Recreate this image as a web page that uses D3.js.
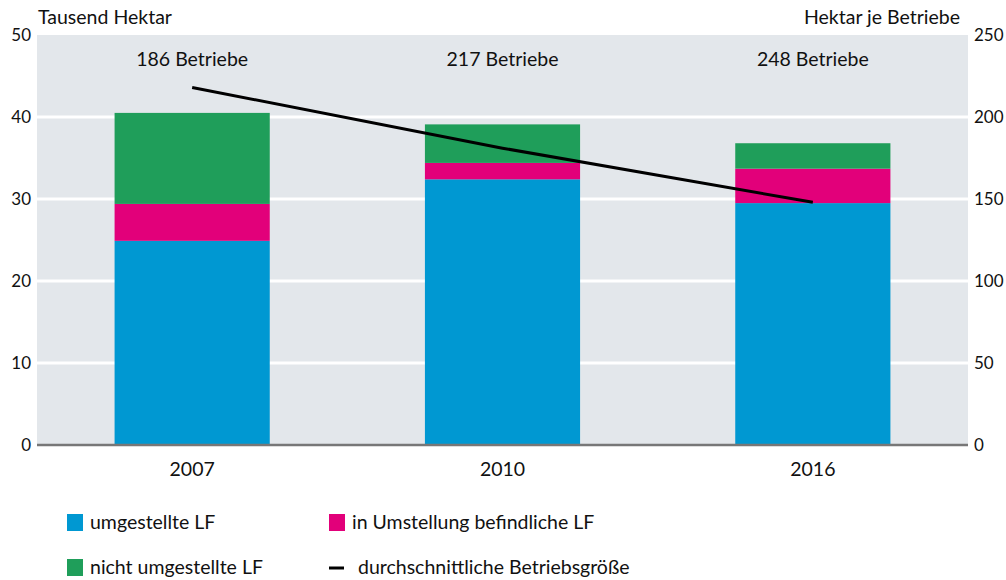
<!DOCTYPE html>
<html>
<head>
<meta charset="utf-8">
<script src="https://cdn.jsdelivr.net/npm/d3@7"></script>
<style>
  body { margin: 0; background: #fff; }
  svg { font-family: Lato, "Noto Sans", sans-serif; }
</style>
</head>
<body>
<div id="chart"></div>
<script>
const years = ['2007', '2010', '2016'];
const umgestellt = [24.9, 32.4, 29.5];
const inUmstellung = [4.5, 2.0, 4.2];
const nichtUmgestellt = [11.1, 4.7, 3.1];
const betriebsgroesse = [218, 181, 148];
const betriebeLabels = ['186 Betriebe', '217 Betriebe', '248 Betriebe'];
const leftTicks = [0, 10, 20, 30, 40, 50];
const rightTicks = [0, 50, 100, 150, 200, 250];

const seriesNames = ['umgestellte LF', 'in Umstellung befindliche LF', 'nicht umgestellte LF'];
const colors = ['#0098d2', '#e2007a', '#1f9e5a'];

const W = 1006, H = 580;
const margin = { top: 35, right: 38, bottom: 135, left: 37 };
const width = W - margin.left - margin.right;
const height = H - margin.top - margin.bottom;
const fs = 19.5;
const tickFs = 17;

const svg = d3.select('#chart').append('svg')
  .attr('width', W).attr('height', H);

const g = svg.append('g')
  .attr('transform', `translate(${margin.left},${margin.top})`);

g.append('rect')
  .attr('width', width)
  .attr('height', height)
  .attr('fill', '#e3e7eb');

const x = d3.scaleBand().domain(years).range([0, width]).paddingInner(0.5).paddingOuter(0.25);
const y = d3.scaleLinear().domain([0, 50]).range([height, 0]);
const y2 = d3.scaleLinear().domain([0, 250]).range([height, 0]);

// gridlines
g.selectAll('.grid')
  .data(leftTicks.filter(d => d > 0 && d < 50))
  .enter().append('line')
  .attr('x1', 0).attr('x2', width)
  .attr('y1', d => y(d)).attr('y2', d => y(d))
  .attr('stroke', '#fff').attr('stroke-width', 3);

// stacked bars
const table = years.map((yr, i) => ({
  year: yr, a: umgestellt[i], b: inUmstellung[i], c: nichtUmgestellt[i]
}));
const stack = d3.stack().keys(['a', 'b', 'c'])(table);

g.selectAll('.layer')
  .data(stack)
  .enter().append('g')
  .attr('fill', (d, i) => colors[i])
  .selectAll('rect')
  .data(d => d)
  .enter().append('rect')
  .attr('x', d => x(d.data.year))
  .attr('width', x.bandwidth())
  .attr('y', d => y(d[1]))
  .attr('height', d => y(d[0]) - y(d[1]));

// baseline
g.append('line')
  .attr('x1', 0).attr('x2', width)
  .attr('y1', height).attr('y2', height)
  .attr('stroke', '#777').attr('stroke-width', 2.5);

// line
const line = d3.line()
  .x((d, i) => x(years[i]) + x.bandwidth() / 2)
  .y(d => y2(d));
g.append('path')
  .datum(betriebsgroesse)
  .attr('d', line)
  .attr('fill', 'none')
  .attr('stroke', '#000')
  .attr('stroke-width', 3);

// Betriebe labels
g.selectAll('.blabel')
  .data(betriebeLabels)
  .enter().append('text')
  .attr('x', (d, i) => x(years[i]) + x.bandwidth() / 2)
  .attr('y', 24)
  .attr('dy', '0.35em')
  .attr('text-anchor', 'middle')
  .attr('font-size', fs)
  .attr('fill', '#111')
  .text(d => d);

// axes
const axL = g.append('g')
  .call(d3.axisLeft(y).tickValues(leftTicks).tickSize(0).tickPadding(6));
const axR = g.append('g')
  .attr('transform', `translate(${width},0)`)
  .call(d3.axisRight(y2).tickValues(rightTicks).tickSize(0).tickPadding(6));
const axB = g.append('g')
  .attr('transform', `translate(0,${height})`)
  .call(d3.axisBottom(x).tickSize(0).tickPadding(17));
[axL, axR].forEach(a => {
  a.select('.domain').remove();
  a.selectAll('text').attr('font-size', tickFs).attr('fill', '#111')
    .attr('font-family', 'Lato, "Noto Sans", sans-serif');
});
axB.select('.domain').remove();
axB.selectAll('text').attr('font-size', fs).attr('fill', '#111')
  .attr('font-family', 'Lato, "Noto Sans", sans-serif');

// axis titles
svg.append('text')
  .attr('x', margin.left + 1).attr('y', 24)
  .attr('font-size', fs).attr('fill', '#111')
  .text('Tausend Hektar');
svg.append('text')
  .attr('x', margin.left + width - 8).attr('y', 24)
  .attr('text-anchor', 'end')
  .attr('font-size', fs).attr('fill', '#111')
  .text('Hektar je Betriebe');

// legend
const legendItems = [
  { label: seriesNames[0], color: colors[0], type: 'box', lx: 67, ly: 522 },
  { label: seriesNames[1], color: colors[1], type: 'box', lx: 329, ly: 522 },
  { label: seriesNames[2], color: colors[2], type: 'box', lx: 67, ly: 567 },
  { label: 'durchschnittliche Betriebsgröße', color: '#000', type: 'line', lx: 329, ly: 567 }
];
const lg = svg.selectAll('.legend')
  .data(legendItems)
  .enter().append('g')
  .attr('transform', d => `translate(${d.lx},${d.ly})`);
lg.filter(d => d.type === 'box').append('rect')
  .attr('x', 0).attr('y', -8).attr('width', 16).attr('height', 17)
  .attr('fill', d => d.color);
lg.filter(d => d.type === 'line').append('line')
  .attr('x1', 0).attr('x2', 15).attr('y1', 1).attr('y2', 1)
  .attr('stroke', '#000').attr('stroke-width', 3);
lg.append('text')
  .attr('x', d => d.type === 'box' ? 23 : 29)
  .attr('y', 0).attr('dy', '0.35em')
  .attr('font-size', fs).attr('fill', '#111')
  .text(d => d.label);
</script>
</body>
</html>
